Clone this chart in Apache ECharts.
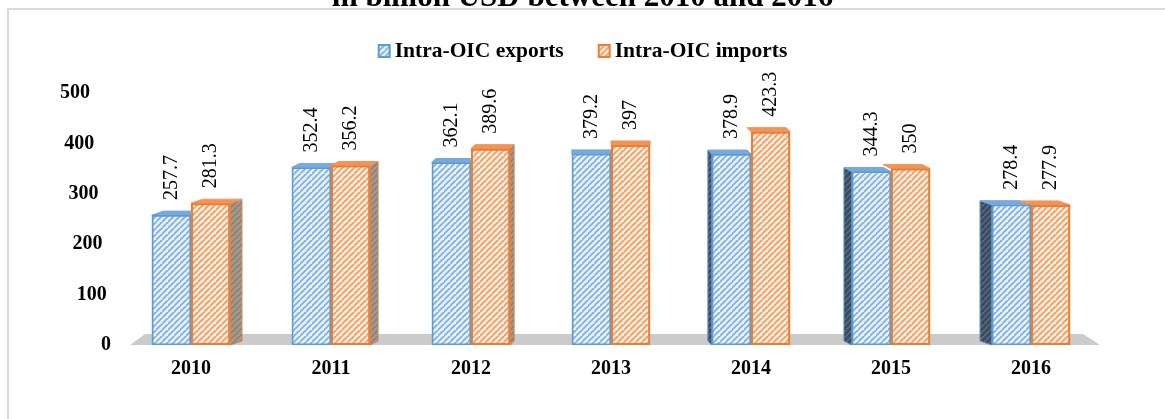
<!DOCTYPE html>
<html>
<head>
<meta charset="utf-8">
<script src="https://cdn.jsdelivr.net/npm/echarts@6/dist/echarts.min.js"></script>
<style>
html,body{margin:0;padding:0;background:#fff;}
#chart{width:1165px;height:419px;}
</style>
</head>
<body>
<div id="chart"></div>
<script>
// ---- data ----
const categories = ['2010', '2011', '2012', '2013', '2014', '2015', '2016'];
const exportsVals = [257.7, 352.4, 362.1, 379.2, 378.9, 344.3, 278.4];
const importsVals = [281.3, 356.2, 389.6, 397, 423.3, 350, 277.9];
const yTicks = [0, 100, 200, 300, 400, 500];
const seriesNames = ['Intra-OIC exports', 'Intra-OIC imports'];
const titleText = 'in billion USD between 2010 and 2016';

// ---- styles ----
const FONT = 'Liberation Serif';
function makePattern(bg, fg, lw) {
  const s = 6;
  const c = document.createElement('canvas');
  c.width = s; c.height = s;
  const g = c.getContext('2d');
  g.fillStyle = bg; g.fillRect(0, 0, s, s);
  g.strokeStyle = fg; g.lineWidth = lw;
  g.beginPath();
  g.moveTo(-1, s + 1); g.lineTo(s + 1, -1);
  g.moveTo(-1 - s, s + 1); g.lineTo(1, -1);
  g.moveTo(s - 1, 2 * s + 1); g.lineTo(2 * s + 1, s - 1);
  g.stroke();
  return { image: c, repeat: 'repeat' };
}
const blueFront = makePattern('#e6f0fa', '#7cade0', 1.6);
const orangeFront = makePattern('#fdeadb', '#f09b60', 1.6);
const blueSide = makePattern('#3c4c60', '#5c7088', 1.3);
const orangeSide = makePattern('#a7978b', '#8b7a6d', 1.3);
const topColors = ['#7aa8da', '#f0955a'];
const BAR_FRAC = 0.28;

const rich = {};
yTicks.forEach((t, i) => {
  rich['p' + t] = { fontFamily: FONT, fontSize: 20, fontWeight: 'bold', color: '#000', padding: [0, i * 4.2, 0, 0] };
});

const depthData = [];
categories.forEach((c, i) => {
  depthData.push([i, exportsVals[i], 0]);
  depthData.push([i, importsVals[i], 1]);
});

const chart = echarts.init(document.getElementById('chart'), null, { renderer: 'canvas' });
chart.setOption({
  animation: false,
  backgroundColor: '#fff',
  title: {
    text: titleText,
    left: 'center',
    top: -23,
    textStyle: { fontFamily: FONT, fontSize: 31, fontWeight: 'bold', color: '#000' }
  },
  graphic: [{
    type: 'rect', silent: true, z: -10,
    shape: { x: 8, y: 9, width: 1300, height: 600 },
    style: { fill: 'none', stroke: '#d9d9d9', lineWidth: 2 }
  }],
  legend: {
    data: seriesNames,
    top: 35,
    left: 'center',
    icon: 'rect',
    itemWidth: 11,
    itemHeight: 12,
    itemGap: 34,
    textStyle: { fontFamily: FONT, fontSize: 21.5, fontWeight: 'bold', color: '#000' }
  },
  grid: { left: 121, right: 64, top: 93, bottom: 74, containLabel: false },
  xAxis: {
    type: 'category',
    data: categories,
    axisLine: { show: false },
    axisTick: { show: false },
    axisLabel: { margin: 14, fontFamily: FONT, fontSize: 20, fontWeight: 'bold', color: '#000' }
  },
  yAxis: {
    type: 'value',
    min: 0, max: 500, interval: 100,
    axisLine: { show: false },
    axisTick: { show: false },
    splitLine: { show: false },
    axisLabel: {
      margin: 10,
      formatter: v => '{p' + v + '|' + v + '}',
      rich: rich
    }
  },
  series: [
    {
      type: 'custom',
      silent: true,
      z: 1,
      data: [[0, 0]],
      renderItem: function (params, api) {
        const cs = params.coordSys;
        const y0 = api.coord([0, 0])[1];
        return {
          type: 'polygon',
          shape: { points: [[cs.x + 9, y0], [cs.x + cs.width - 1, y0], [cs.x + cs.width - 18, y0 - 11], [cs.x + 24, y0 - 11]] },
          style: { fill: '#cbcbcb' }
        };
      }
    },
    {
      type: 'custom',
      silent: true,
      z: 2,
      data: depthData,
      renderItem: function (params, api) {
        const cat = api.value(0), v = api.value(1), s = api.value(2);
        const top = api.coord([cat, v]);
        const base = api.coord([cat, 0]);
        const band = api.size([1, 0])[0];
        const bw = band * BAR_FRAC;
        const xl = s === 0 ? top[0] - bw : top[0];
        const xr = xl + bw;
        const cs = params.coordSys;
        const eye = cs.x + cs.width / 2;
        const dx = (eye - top[0]) * 0.028;
        const dy = -4;
        const ty = top[1], by = base[1];
        const children = [];
        if (s === 1 && dx > 0.5) {
          children.push({ type: 'polygon', shape: { points: [[xr, ty], [xr + dx, ty + dy], [xr + dx, by + dy], [xr, by]] },
            style: { fill: orangeSide, stroke: '#c9865a', lineWidth: 1 } });
        }
        if (s === 0 && dx < -0.5) {
          children.push({ type: 'polygon', shape: { points: [[xl, ty], [xl + dx, ty + dy], [xl + dx, by + dy], [xl, by]] },
            style: { fill: blueSide, stroke: '#5b8fc8', lineWidth: 1 } });
        }
        children.push({ type: 'polygon', shape: { points: [[xl, ty], [xr, ty], [xr + dx, ty + dy], [xl + dx, ty + dy]] },
          style: { fill: topColors[s], stroke: topColors[s], lineWidth: 1 } });
        return { type: 'group', children: children };
      }
    },
    {
      name: seriesNames[0],
      type: 'bar',
      z: 3,
      data: exportsVals,
      barWidth: (BAR_FRAC * 100) + '%',
      barGap: '0%',
      itemStyle: { color: blueFront, borderColor: '#5b9bd5', borderWidth: 1.6 },
      emphasis: { disabled: true },
      label: {
        show: true, position: 'top', rotate: 90, align: 'left', verticalAlign: 'middle', distance: 15,
        fontFamily: FONT, fontSize: 20, color: '#000'
      }
    },
    {
      name: seriesNames[1],
      type: 'bar',
      z: 3,
      data: importsVals,
      barWidth: (BAR_FRAC * 100) + '%',
      barGap: '0%',
      itemStyle: { color: orangeFront, borderColor: '#ed7d31', borderWidth: 2 },
      emphasis: { disabled: true },
      label: {
        show: true, position: 'top', rotate: 90, align: 'left', verticalAlign: 'middle', distance: 15,
        fontFamily: FONT, fontSize: 20, color: '#000'
      }
    }
  ]
});
</script>
</body>
</html>
